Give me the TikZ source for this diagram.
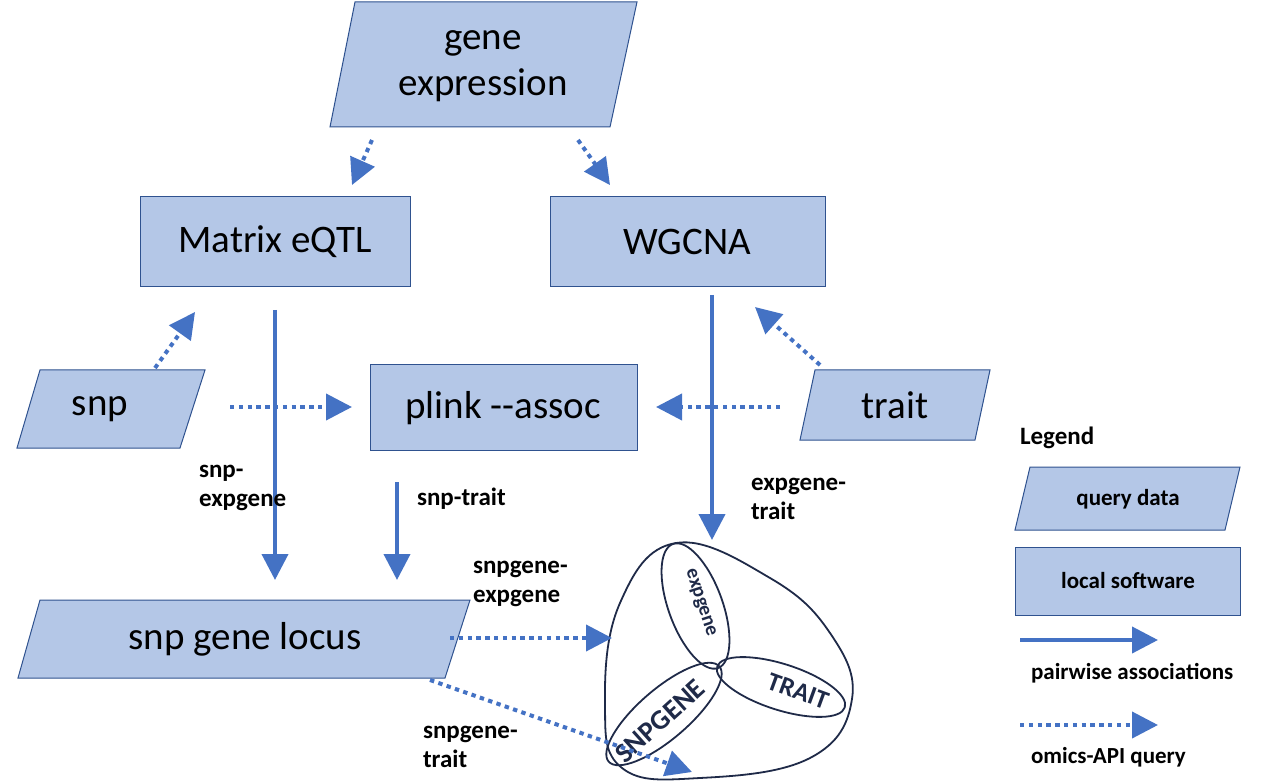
\documentclass[tikz,border=0pt]{standalone}
\usepackage{fontspec}
\setmainfont{Carlito}
\usetikzlibrary{arrows.meta,shapes.geometric}
\definecolor{bfill}{HTML}{B4C7E7}
\definecolor{bline}{HTML}{2F528F}
\definecolor{arr}{HTML}{4472C4}
\definecolor{ink}{HTML}{1F2A48}
\tikzset{
 box/.style={fill=bfill,draw=bline,line width=0.5pt},
 big/.style={font=\fontsize{19.5}{23}\selectfont},
 lab/.style={font=\bfseries\fontsize{12.5}{14.5}\selectfont,align=left},
 solidarr/.style={arr,line width=2pt,-{Triangle[length=13pt,width=13pt]}},
 dotarr/.style={arr,line width=2pt,dash pattern=on 2.2pt off 2.2pt,-{Triangle[length=13pt,width=13pt]}},
 sph/.style={ink,line width=0.9pt}
}
\begin{document}
\begin{tikzpicture}[x=0.5pt,y=0.5pt]
\useasboundingbox (0,0) rectangle (1280,783);
% gene expression
\draw[box] (355,781)--(637,781)--(610,656)--(330,656)--cycle;
\node[big,align=center] (ge) at (483,717) {gene\\expression};
\draw[box] (140,586) rectangle (410,496); \node[big] (mq) at (275,541) {Matrix eQTL};
\draw[box] (550,586) rectangle (825,496); \node[big] (wg) at (687,541) {WGCNA};
\draw[box] (40,413)--(205,413)--(180,335)--(17,335)--cycle; \node[big] (snp) at (100,374) {snp};
\draw[box] (370,418) rectangle (637,333); \node[big] (pl) at (503,375) {plink -{}-assoc};
\draw[box] (815,413)--(990,413)--(975,343)--(800,343)--cycle; \node[big] (tr) at (895,378) {trait};
\draw[box] (40,183)--(470,183)--(445,105)--(18,105)--cycle; \node[big] (sl) at (245,144) {snp gene locus};
% legend
\node[font=\bfseries\fontsize{12.5}{14}\selectfont,anchor=west] (lg) at (1013,345) {Legend};
\draw[box] (1030,316)--(1240,316)--(1225,253)--(1015,253)--cycle;
\node[font=\bfseries\fontsize{11.5}{13}\selectfont] (qd) at (1128,284) {query data};
\draw[box] (1015,236) rectangle (1240,168);
\node[font=\bfseries\fontsize{11.5}{13}\selectfont] (ls) at (1128,202) {local software};
\coordinate (l1a) at (1020,143); \coordinate (l1b) at (1158,143);
\draw[solidarr] (l1a)--(l1b);
\node[font=\bfseries\fontsize{11.5}{13}\selectfont,anchor=west] (pa) at (1024,110) {pairwise associations};
\coordinate (l2a) at (1020,58); \coordinate (l2b) at (1158,58);
\draw[dotarr] (l2a)--(l2b);
\node[font=\bfseries\fontsize{11.5}{13}\selectfont,anchor=west] (oq) at (1024,26) {omics-API query};
% sphere
\coordinate (c) at (718,116);
\draw[sph] plot[smooth cycle,tension=0.7] coordinates {(676,240) (770,205) (830,150) (852,84) (810,25) (700,5) (622,15) (605,80) (620,180)};
\draw[sph,shift={(695.5,177)},rotate=110] (0,0) ellipse [x radius=66,y radius=27];
\draw[sph,shift={(781,96)},rotate=-17.7] (0,0) ellipse [x radius=67,y radius=23];
\draw[sph,shift={(664,69)},rotate=40.7] (0,0) ellipse [x radius=73,y radius=25];
\node[ink,rotate=-72,font=\bfseries\fontsize{10}{12}\selectfont] (ex) at (700,180) {expgene};
\node[ink,rotate=-20,font=\bfseries\fontsize{13}{15}\selectfont] (tt) at (798,92) {TRAIT};
\node[ink,rotate=42,font=\bfseries\fontsize{14}{16}\selectfont] (sg) at (660,62) {SNPGENE};
% arrows
\coordinate (a1) at (372,643); \coordinate (a1e) at (352,598);
\draw[dotarr] (a1)--(a1e);
\coordinate (a2) at (578,643); \coordinate (a2e) at (610,598);
\draw[dotarr] (a2)--(a2e);
\coordinate (a3) at (275,473); \coordinate (a3e) at (275,203);
\draw[solidarr] (a3)--(a3e);
\coordinate (a4) at (155,415); \coordinate (a4e) at (195,471);
\draw[dotarr] (a4)--(a4e);
\coordinate (a5) at (230,376); \coordinate (a5e) at (352,376);
\draw[dotarr] (a5)--(a5e);
\coordinate (a6) at (780,376); \coordinate (a6e) at (656,376);
\draw[dotarr] (a6)--(a6e);
\coordinate (a7) at (820,418); \coordinate (a7e) at (755,476);
\draw[dotarr] (a7)--(a7e);
\coordinate (a8) at (712,488); \coordinate (a8e) at (712,243);
\draw[solidarr] (a8)--(a8e);
\coordinate (a9) at (397,301); \coordinate (a9e) at (397,203);
\draw[solidarr] (a9)--(a9e);
\coordinate (a10) at (450,145); \coordinate (a10e) at (612,145);
\draw[dotarr] (a10)--(a10e);
\coordinate (a11) at (430,103); \coordinate (a11e) at (692,11);
\draw[dotarr] (a11)--(a11e);
% labels
\node[lab,align=left,anchor=west] (l1) at (192,295) {snp-\\expgene};
\node[lab,anchor=west] (l2) at (410,284) {snp-trait};
\node[lab,anchor=west] (l3) at (744,284) {expgene-\\trait};
\node[lab,anchor=west] (l4) at (466,199) {snpgene-\\expgene};
\node[lab,anchor=west] (l5) at (416,36) {snpgene-\\trait};
\end{tikzpicture}
\end{document}
